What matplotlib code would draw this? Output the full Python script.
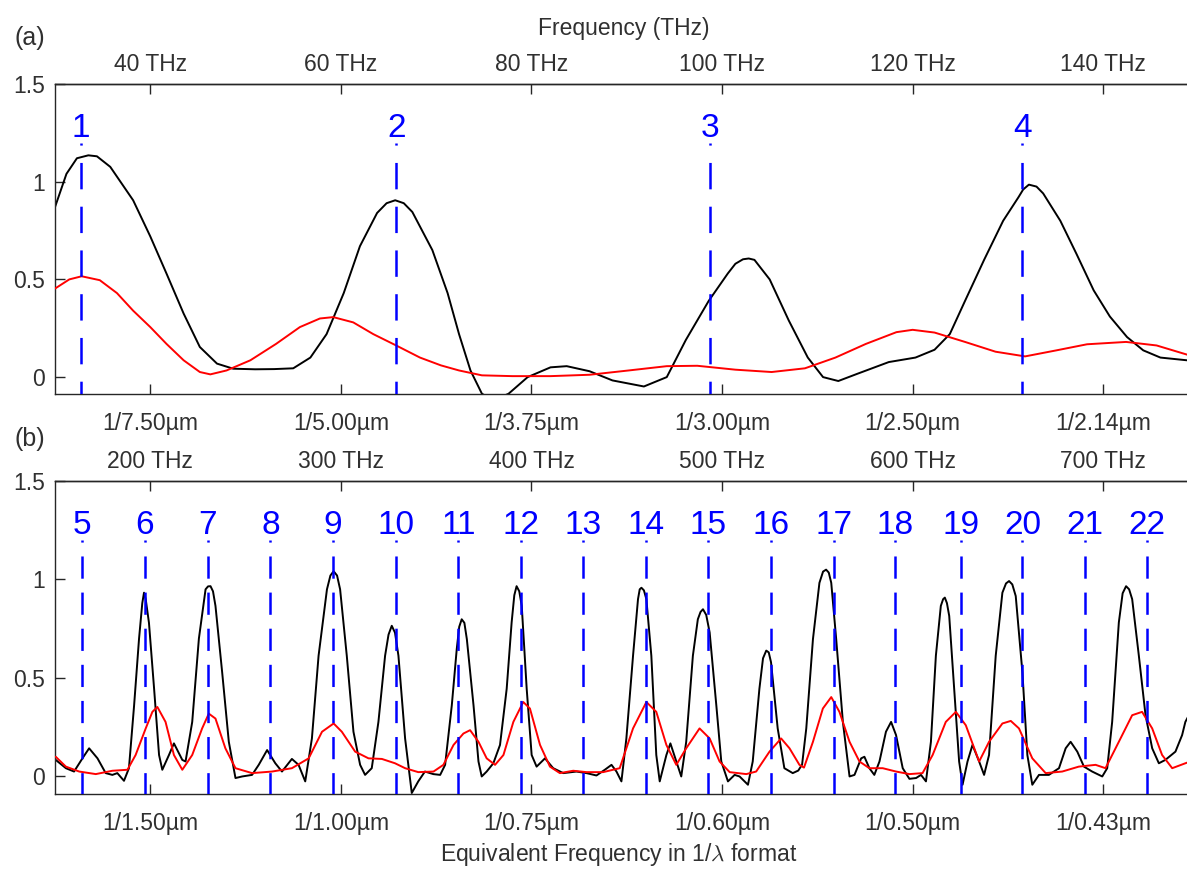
import matplotlib
matplotlib.use("Agg")
import matplotlib.pyplot as plt

plt.rcParams['font.family'] = ['Liberation Sans', 'DejaVu Sans']
plt.rcParams['mathtext.fontset'] = 'cm'
plt.rcParams['lines.scale_dashes'] = False

# ---------------- data ----------------
# Panel (a): frequency in THz
a_black_f = [30.0, 31.2, 32.3, 33.5, 34.4, 35.8, 38.2, 40.0, 41.7, 43.5, 45.2, 47.0, 48.7, 51.0, 53.0,
             55.0, 56.8, 58.5, 60.3, 62.0, 63.8, 64.8, 65.7, 66.6, 67.5, 69.6, 71.2, 72.4, 73.6, 74.8,
             76.0, 77.6, 79.6, 82.0, 83.7, 86.1, 88.5, 91.8, 94.2, 96.2, 98.6, 100.6, 101.4, 102.2,
             102.8, 103.4, 105.0, 107.0, 109.0, 110.6, 112.2, 114.2, 117.5, 120.3, 122.3, 123.9, 125.5,
             127.5, 129.5, 131.1, 131.6, 132.2, 133.0, 133.7, 135.5, 137.2, 139.0, 140.7, 142.5, 144.2,
             146.0, 148.8, 150.0]
a_black_v = [0.87, 1.04, 1.12, 1.135, 1.13, 1.076, 0.905, 0.72, 0.53, 0.325, 0.154, 0.069, 0.043, 0.040, 0.041,
             0.045, 0.10, 0.22, 0.43, 0.67, 0.84, 0.89, 0.905, 0.89, 0.845, 0.65, 0.43, 0.22, 0.034, -0.085,
             -0.12, -0.085, 0.0, 0.05, 0.056, 0.03, -0.017, -0.048, 0.0, 0.19, 0.39, 0.53, 0.58, 0.603,
             0.607, 0.60, 0.50, 0.29, 0.10, 0.0, -0.02, 0.017, 0.077, 0.10, 0.14, 0.22, 0.39,
             0.60, 0.80, 0.92, 0.96, 0.985, 0.975, 0.94, 0.80, 0.63, 0.444, 0.31, 0.205, 0.137,
             0.10, 0.086, 0.08]

a_red_f = [30.0, 31.5, 32.8, 34.7, 36.5, 38.2, 40.0, 41.7, 43.5, 45.2, 46.3, 48.0, 50.5, 53.2, 55.7,
           57.8, 59.2, 61.3, 63.4, 65.8, 68.3, 70.5, 72.4, 74.8, 78.0, 82.0, 86.1, 90.2, 94.2, 97.4,
           101.4, 105.2, 108.7, 111.9, 115.1, 118.3, 120.0, 122.3, 125.5, 128.7, 131.8, 135.1, 138.3,
           142.4, 145.6, 148.8, 150.0]
a_red_v = [0.453, 0.50, 0.516, 0.496, 0.43, 0.34, 0.256, 0.17, 0.086, 0.026, 0.014, 0.034, 0.086, 0.17, 0.256,
           0.30, 0.307, 0.28, 0.22, 0.162, 0.10, 0.06, 0.034, 0.009, 0.005, 0.005, 0.012, 0.034, 0.056, 0.058,
           0.038, 0.026, 0.045, 0.10, 0.17, 0.23, 0.242, 0.228, 0.18, 0.13, 0.106, 0.137, 0.168,
           0.18, 0.162, 0.115, 0.105]

# Panel (b)
b_black_f = [150.4, 155.7, 160.0, 164.4, 167.9, 172.3, 176.6, 180.1, 182.7, 186.2, 188.8, 191.5, 194.1,
             195.8, 196.7, 197.6, 199.3, 202.0, 204.6, 206.3, 209.8, 212.4, 216.8, 218.5, 222.0, 225.5,
             229.0, 230.3, 231.6, 232.9, 234.2, 237.7, 241.2, 244.7, 248.2, 253.4, 256.9, 261.3, 265.6,
             269.1, 274.3, 277.8, 281.3, 284.8, 288.3, 292.7, 294.5, 296.2, 298.0, 299.6, 303.1, 306.6,
             310.1, 312.7, 316.2, 319.7, 323.2, 325.0, 326.7, 328.4, 330.2, 333.7, 337.2, 340.6, 344.1,
             348.5, 352.1, 354.7, 358.2, 360.8, 362.1, 363.4, 364.8, 366.1, 369.6, 372.2, 373.9, 376.5,
             380.0, 383.5, 387.0, 389.6, 391.0, 392.2, 393.6, 394.9, 397.5, 400.1, 402.7, 407.1, 411.4,
             416.7, 423.6, 428.9, 434.1, 438.5, 442.0, 444.6, 447.2, 449.8, 453.3, 455.9, 456.8, 457.7,
             459.0, 460.3, 462.9, 465.5, 467.3, 470.8, 472.9, 476.0, 478.6, 481.2, 484.7, 487.3, 488.7,
             490.0, 491.7, 493.5, 497.0, 499.6, 503.1, 506.6, 509.2, 513.6, 516.1, 519.6, 521.5, 523.2,
             524.5, 525.7, 529.2, 532.7, 537.1, 540.0, 542.0, 544.2, 547.7, 551.1, 553.0, 554.6, 556.0,
             557.3, 559.9, 563.4, 566.9, 569.5, 573.0, 574.7, 577.3, 579.9, 582.6, 586.0, 588.7, 591.3,
             594.8, 598.3, 601.8, 604.4, 607.0, 609.6, 612.2, 614.8, 616.0, 616.9, 618.0, 619.2, 621.8,
             624.4, 626.2, 628.8, 631.4, 634.9, 637.5, 640.1, 643.6, 647.1, 649.0, 650.6, 652.3, 654.1,
             657.6, 660.2, 662.8, 666.3, 671.5, 676.8, 680.3, 682.9, 686.4, 689.9, 694.2, 699.5, 702.1,
             704.7, 708.2, 710.2, 712.0, 713.6, 715.2, 718.7, 722.2, 725.7, 729.2, 732.6, 737.9, 741.4,
             743.1, 746.0, 750.0]
b_black_v = [0.084, 0.042, 0.025, 0.092, 0.143, 0.092, 0.017, 0.008, 0.017, -0.022, 0.042, 0.36, 0.70,
             0.88, 0.933, 0.90, 0.78, 0.445, 0.109, 0.034, 0.109, 0.168, 0.084, 0.076, 0.277, 0.70,
             0.95, 0.965, 0.966, 0.94, 0.866, 0.53, 0.176, -0.008, 0.0, 0.008, 0.059, 0.134, 0.067,
             0.025, 0.089, 0.059, -0.025, 0.193, 0.613, 0.95, 1.02, 1.042, 1.02, 0.95, 0.613, 0.227,
             0.059, 0.008, 0.042, 0.277, 0.613, 0.72, 0.765, 0.73, 0.613, 0.193, -0.084, -0.025, 0.025,
             0.012, 0.008, 0.059, 0.361, 0.647, 0.76, 0.798, 0.78, 0.697, 0.361, 0.076, 0.0, 0.025,
             0.067, 0.16, 0.445, 0.782, 0.92, 0.966, 0.94, 0.866, 0.445, 0.109, 0.05, 0.092, 0.042,
             0.017, 0.025, 0.017, 0.005, 0.034, 0.059, 0.025, -0.025, 0.193, 0.613, 0.9, 0.95, 0.958,
             0.945, 0.9, 0.613, 0.109, -0.025, 0.109, 0.168, 0.076, 0.0, 0.176, 0.613, 0.798, 0.835,
             0.849, 0.82, 0.731, 0.361, 0.076, -0.025, 0.008, 0.0, -0.042, 0.076, 0.445, 0.60, 0.639,
             0.63, 0.58, 0.244, 0.042, 0.017, 0.03, 0.06, 0.244, 0.697, 0.983, 1.04, 1.05, 1.035,
             0.983, 0.697, 0.277, 0.0, 0.008, 0.092, 0.10, 0.042, 0.008, 0.076, 0.227, 0.277, 0.21,
             0.042, -0.012, -0.008, 0.008, -0.025, 0.176, 0.613, 0.866, 0.90, 0.908, 0.88, 0.815, 0.445,
             0.076, -0.042, 0.076, 0.16, 0.076, 0.008, 0.109, 0.613, 0.933, 0.98, 0.992, 0.975, 0.916,
             0.529, 0.109, -0.042, 0.008, 0.008, 0.042, 0.143, 0.176, 0.126, 0.05, 0.025, 0.0, 0.042,
             0.277, 0.782, 0.93, 0.966, 0.95, 0.9, 0.613, 0.311, 0.143, 0.067, 0.084, 0.126, 0.21,
             0.277, 0.33, 0.38]

b_red_f = [150.4, 155.7, 162.7, 171.4, 180.1, 188.0, 192.3, 197.6, 201.1, 203.7, 208.0, 212.4, 216.8,
           222.0, 227.2, 230.7, 234.2, 239.4, 244.7, 253.4, 263.9, 274.3, 283.1, 290.1, 296.2, 300.5,
           307.5, 314.5, 321.5, 328.4, 333.7, 340.6, 348.6, 353.8, 359.1, 364.3, 367.8, 372.2, 376.5,
           380.9, 385.3, 390.5, 395.7, 399.2, 404.5, 409.7, 414.9, 421.9, 428.9, 437.6, 446.3, 453.3,
           460.3, 465.5, 470.8, 476.0, 481.2, 488.2, 493.5, 498.7, 504.0, 512.7, 517.9, 524.9, 531.0,
           535.4, 540.6, 543.0, 547.7, 552.9, 557.3, 561.6, 566.9, 572.1, 577.3, 584.3, 591.3, 598.3,
           605.2, 610.5, 617.4, 622.7, 627.9, 634.9, 640.1, 647.1, 651.5, 655.8, 662.8, 669.8, 678.5,
           687.2, 696.0, 701.2, 708.2, 715.2, 720.4, 725.7, 730.9, 736.2, 743.1, 750.0]
b_red_v = [0.10, 0.05, 0.025, 0.012, 0.029, 0.034, 0.109, 0.244, 0.328, 0.353, 0.277, 0.109, 0.034,
           0.109, 0.244, 0.319, 0.294, 0.143, 0.042, 0.017, 0.025, 0.042, 0.092, 0.227, 0.269, 0.227,
           0.126, 0.092, 0.089, 0.067, 0.042, 0.022, 0.025, 0.059, 0.16, 0.218, 0.235, 0.176, 0.092,
           0.059, 0.109, 0.277, 0.378, 0.345, 0.16, 0.05, 0.017, 0.029, 0.022, 0.022, 0.042, 0.244,
           0.378, 0.328, 0.16, 0.059, 0.143, 0.244, 0.193, 0.076, 0.022, 0.012, 0.025, 0.126, 0.193,
           0.143, 0.059, 0.045, 0.176, 0.345, 0.403, 0.328, 0.176, 0.076, 0.042, 0.042, 0.025, 0.012,
           0.017, 0.109, 0.277, 0.328, 0.26, 0.076, 0.176, 0.269, 0.282, 0.244, 0.092, 0.017, 0.025,
           0.05, 0.059, 0.042, 0.176, 0.311, 0.328, 0.244, 0.109, 0.042, 0.067, 0.09]

# Marker lines (THz) and their labels
a_marks = [32.7, 65.8, 98.7, 131.5]
a_mark_labels = ['1', '2', '3', '4']
b_marks = [164.4, 197.2, 230.2, 263.0, 295.8, 328.8, 361.7, 394.5, 427.3, 460.3, 492.8, 525.6,
           559.0, 590.9, 625.2, 657.6, 690.4, 723.0]
b_mark_labels = [str(n) for n in range(5, 23)]

# Tick positions and labels
a_ticks = [40, 60, 80, 100, 120, 140]
a_top_labels = ['40 THz', '60 THz', '80 THz', '100 THz', '120 THz', '140 THz']
a_bot_labels = ['1/7.50µm', '1/5.00µm', '1/3.75µm', '1/3.00µm', '1/2.50µm', '1/2.14µm']
b_ticks = [200, 300, 400, 500, 600, 700]
b_top_labels = ['200 THz', '300 THz', '400 THz', '500 THz', '600 THz', '700 THz']
b_bot_labels = ['1/1.50µm', '1/1.00µm', '1/0.75µm', '1/0.60µm', '1/0.50µm', '1/0.43µm']
y_ticks = [0, 0.5, 1, 1.5]
y_labels = ['0', '0.5', '1', '1.5']

# ---------------- figure ----------------
W, H = 1187, 869
fig = plt.figure(figsize=(W / 100, H / 100), dpi=100)
fig.patch.set_facecolor('white')


def px_axes(l, t, r, b):
    return [l / W, 1 - b / H, (r - l) / W, (b - t) / H]


TXT = '#303030'
SPINE = '#262626'
FS = 16.5


def style_axes(ax, xlim, ticks, top_labels, bot_labels, marks, labels, dash):
    ax.set_xlim(*xlim)
    ax.set_ylim(-0.088, 1.5)
    for s in ax.spines.values():
        s.set_color(SPINE)
        s.set_linewidth(1.0)
    ax.set_yticks(y_ticks)
    ax.set_yticklabels(y_labels)
    ax.set_xticks(ticks)
    ax.set_xticklabels(bot_labels)
    ax.tick_params(axis='y', direction='in', length=7, width=1.0, color=SPINE,
                   labelsize=FS, labelcolor=TXT, pad=7)
    ax.tick_params(axis='x', direction='in', length=7, width=1.0, color=SPINE,
                   labelsize=FS, labelcolor=TXT, pad=13)
    sec = ax.secondary_xaxis('top')
    sec.set_xticks(ticks)
    sec.set_xticklabels(top_labels)
    sec.tick_params(direction='in', length=7, width=1.0, color=SPINE,
                    labelsize=FS, labelcolor=TXT, pad=5.5)
    sec.spines['top'].set_color(SPINE)
    sec.spines['top'].set_linewidth(1.0)
    for xm, lab in zip(marks, labels):
        ax.plot([xm, xm], [1.2, -0.1], color='#0000ff', lw=1.8,
                linestyle=dash, zorder=4)
        ax.text(xm, 1.23, lab, color='#0000ff', fontsize=24,
                ha='center', va='baseline', zorder=5)


line_kw = dict(lw=1.4, solid_joinstyle='round', solid_capstyle='round')

ax_a = fig.add_axes(px_axes(55, 84, 1198.5, 394.3))
ax_a.plot(a_black_f, a_black_v, color='black', zorder=2, **line_kw)
ax_a.plot(a_red_f, a_red_v, color='#ff0000', zorder=3, **line_kw)
style_axes(ax_a, (30, 150), a_ticks, a_top_labels, a_bot_labels,
           a_marks, a_mark_labels, (17.5, (19.0, 12.5)))

ax_b = fig.add_axes(px_axes(55, 481, 1198.5, 793.8))
ax_b.plot(b_black_f, b_black_v, color='black', zorder=2, **line_kw)
ax_b.plot(b_red_f, b_red_v, color='#ff0000', zorder=3, **line_kw)
style_axes(ax_b, (150, 750), b_ticks, b_top_labels, b_bot_labels,
           b_marks, b_mark_labels, (14.5, (16.0, 10.0)))

# texts
fig.text(624 / W, 1 - 35 / H, 'Frequency (THz)', ha='center', va='baseline',
         fontsize=FS, color=TXT)
fig.text(14 / W, 1 - 45 / H, '(a)', ha='left', va='baseline', fontsize=18, color=TXT)
fig.text(15 / W, 1 - 446 / H, '(b)', ha='left', va='baseline', fontsize=18, color=TXT)
fig.text(619 / W, 1 - 861 / H, 'Equivalent Frequency in 1/$\\lambda$ format',
         ha='center', va='baseline', fontsize=FS, color=TXT)

fig.savefig('out.png', dpi=100, facecolor='white')
